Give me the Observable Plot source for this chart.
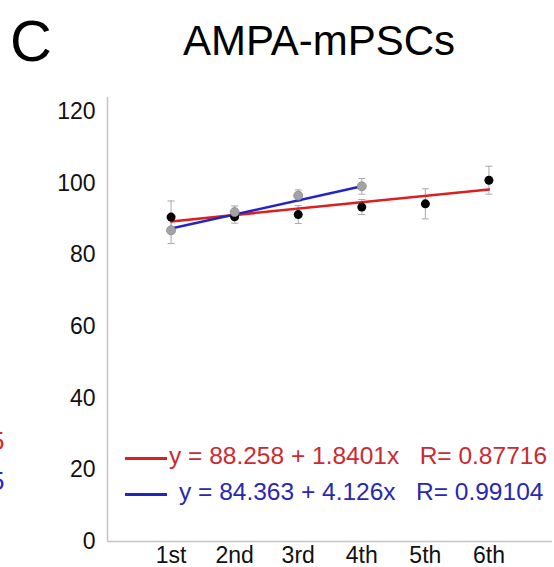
<!DOCTYPE html>
<html>
<head>
<meta charset="utf-8">
<script src="https://cdn.jsdelivr.net/npm/d3@7"></script>
<script src="https://cdn.jsdelivr.net/npm/@observablehq/plot@0.6"></script>
<style>
  html, body { margin: 0; padding: 0; background: #fff; }
  #wrap { position: relative; width: 554px; height: 567px; overflow: hidden; font-family: "Liberation Sans", Arial, sans-serif; }
  .abs { position: absolute; white-space: pre; line-height: 1; }
  #chart { position: absolute; left: 0; top: 80px; }
</style>
</head>
<body>
<div id="wrap">
  <div class="abs" style="left:10px;top:12px;font-size:58px;color:#000;">C</div>
  <div class="abs" style="left:0;width:638px;text-align:center;top:20px;font-size:42px;color:#000;">AMPA-mPSCs</div>
  <div id="chart"></div>
  <div class="abs" style="left:-10px;top:428px;font-size:26px;color:#d42a2a;">5</div>
  <div class="abs" style="left:-10px;top:468px;font-size:26px;color:#2a2ab8;">5</div>
  <div id="legend"></div>
</div>
<script>
// ---- data ----
const sessions = ["1st", "2nd", "3rd", "4th", "5th", "6th"];
const blackMean = [90.6, 90.7, 91.3, 93.4, 94.3, 100.9];
const blackErr  = [4.5, 1.8, 2.5, 2.1, 4.2, 3.9];
const greyMean  = [86.9, 92.0, 96.6, 99.2];
const greyErr   = [3.7, 1.7, 1.6, 2.2];
// fitted lines, endpoints as drawn
const redFitX = [1, 6];
const redFitY = [89.4, 98.3];
const blueFitX = [1, 4];
const blueFitY = [87.4, 99.2];
const legendLabels = [
  "y = 88.258 + 1.8401x   R= 0.87716",
  "y = 84.363 + 4.126x   R= 0.99104"
];
const yTicks = [0, 20, 40, 60, 80, 100, 120];

const RED = "#dd1f1f", BLUE = "#2424c4";
const RED_TXT = "#cc2a30", BLUE_TXT = "#2828b0";

const black = blackMean.map((m, i) => ({x: i + 1, m, lo: m - blackErr[i], hi: m + blackErr[i]}));
const grey = greyMean.map((m, i) => ({x: i + 1, m, lo: m - greyErr[i], hi: m + greyErr[i]}));
const redFit = redFitX.map((x, i) => ({x, y: redFitY[i]}));
const blueFit = blueFitX.map((x, i) => ({x, y: blueFitY[i]}));
const errs = black.concat(grey);

const cap = {
  draw(ctx, size) {
    const w = 3.5;
    ctx.moveTo(-w, 0);
    ctx.lineTo(w, 0);
  }
};

const chart = Plot.plot({
  width: 554,
  height: 487,
  marginLeft: 107,
  marginRight: 2,
  marginTop: 17,
  marginBottom: 26,
  style: {fontFamily: "'Liberation Sans', Arial, sans-serif", fontSize: "23px", color: "#111", background: "transparent"},
  x: {domain: [0, 7]},
  y: {domain: [0, 124]},
  marks: [
    Plot.axisY({ticks: yTicks, tickSize: 0, tickPadding: 12, label: null, fontSize: 23}),
    Plot.axisX({ticks: sessions.map((d, i) => i + 1), tickFormat: d => sessions[d - 1], tickSize: 0, tickPadding: 5, label: null, fontSize: 23}),
    Plot.ruleX([0], {y1: 0, y2: 124, stroke: "#c4c4c4", strokeWidth: 1.5}),
    Plot.ruleY([0], {x1: 0, x2: 7, stroke: "#c4c4c4", strokeWidth: 1.5}),
    Plot.ruleX(errs, {x: "x", y1: "lo", y2: "hi", stroke: "#a8a8a8", strokeWidth: 1}),
    Plot.dot(errs, {x: "x", y: "hi", symbol: cap, stroke: "#a8a8a8", strokeWidth: 1, r: 3}),
    Plot.dot(errs, {x: "x", y: "lo", symbol: cap, stroke: "#a8a8a8", strokeWidth: 1, r: 3}),
    Plot.line(redFit, {x: "x", y: "y", stroke: RED, strokeWidth: 2.5}),
    Plot.line(blueFit, {x: "x", y: "y", stroke: BLUE, strokeWidth: 2.5}),
    Plot.dot(black, {x: "x", y: "m", r: 4.5, fill: "#000"}),
    Plot.dot(grey, {x: "x", y: "m", r: 4.5, fill: "#a3a3a3", stroke: "#8a8a8a", strokeWidth: 0.8})
  ]
});
document.getElementById("chart").appendChild(chart);

// legend (HTML overlay)
const legend = document.getElementById("legend");
const rows = [
  {label: legendLabels[0], line: RED, txt: RED_TXT, top: 444, lineTop: 457, textLeft: 169},
  {label: legendLabels[1], line: BLUE, txt: BLUE_TXT, top: 480, lineTop: 493, textLeft: 179}
];
rows.forEach(r => {
  const ln = document.createElement("div");
  ln.style.cssText = `position:absolute;left:125px;top:${r.lineTop}px;width:42px;height:2.5px;background:${r.line};`;
  legend.appendChild(ln);
  const t = document.createElement("div");
  t.className = "abs";
  t.style.cssText += `left:${r.textLeft}px;top:${r.top}px;font-size:24.5px;color:${r.txt};`;
  t.textContent = r.label;
  legend.appendChild(t);
});
</script>
</body>
</html>
